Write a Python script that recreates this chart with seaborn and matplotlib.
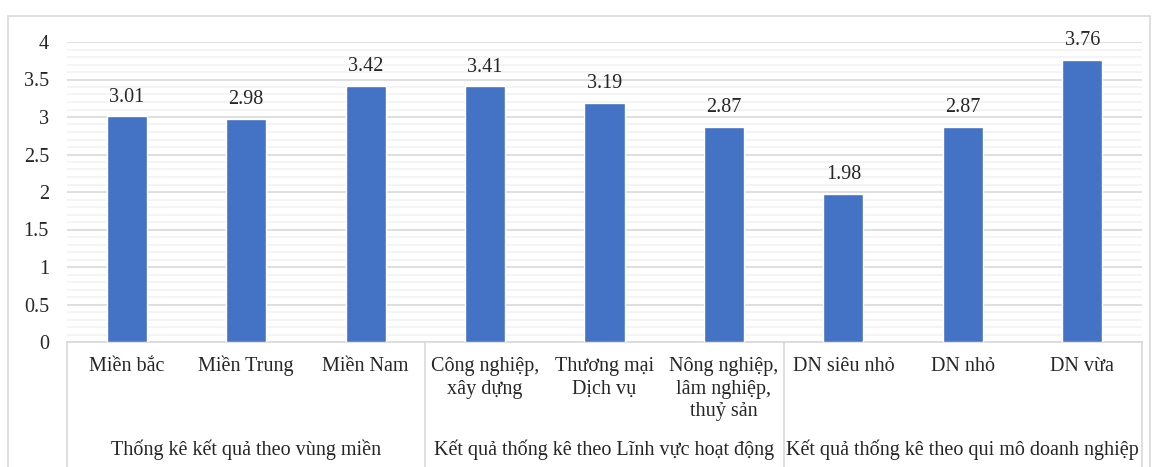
import matplotlib
matplotlib.use("Agg")
import matplotlib.pyplot as plt
import matplotlib.patches as mpatches
import seaborn as sns
import pandas as pd
import numpy as np

categories = ["Miền bắc", "Miền Trung", "Miền Nam",
              "Công nghiệp,\nxây dựng", "Thương mại\nDịch vụ", "Nông nghiệp,\nlâm nghiệp,\nthuỷ sản",
              "DN siêu nhỏ", "DN nhỏ", "DN vừa"]
values = [3.01, 2.98, 3.42, 3.41, 3.19, 2.87, 1.98, 2.87, 3.76]
groups = ["Thống kê kết quả theo vùng miền",
          "Kết quả thống kê theo Lĩnh vực hoạt động",
          "Kết quả thống kê theo qui mô doanh nghiệp"]
group_sizes = [3, 3, 3]
yticks = [0, 0.5, 1, 1.5, 2, 2.5, 3, 3.5, 4]
ytick_labels = ["0", "0.5", "1", "1.5", "2", "2.5", "3", "3.5", "4"]

sns.set_style("white")
plt.rcParams['font.family'] = ['Liberation Serif', 'DejaVu Serif']

W, H = 1155, 467
FS = 14.5
TXT = "#262626"
fig = plt.figure(figsize=(W / 100, H / 100), dpi=100)
ax = fig.add_axes([67 / W, (H - 342) / H, (1142 - 67) / W, 300 / H])

df = pd.DataFrame({"cat": categories, "val": values})
sns.barplot(data=df, x="cat", y="val", color="#4472C4", width=0.335,
            saturation=1, ax=ax, zorder=3)

ax.set_xlim(-0.5, len(categories) - 0.5)
ax.set_ylim(0, 4)
ax.set_yticks(yticks)
ax.set_yticklabels(ytick_labels, fontsize=FS, color=TXT)
ax.set_yticks(np.arange(0, 4.01, 0.1), minor=True)
ax.grid(axis="y", which="major", color="#d9d9d9", lw=1.2, zorder=0)
ax.grid(axis="y", which="minor", color="#f2f2f2", lw=1.2, zorder=0)
ax.set_axisbelow(True)
ax.tick_params(axis="y", which="both", length=0, pad=13)
ax.tick_params(axis="x", length=0)
ax.set_xticks(range(len(categories)))
ax.set_xticklabels([])
ax.set_xlabel("")
ax.set_ylabel("")
for s in ["top", "left", "right"]:
    ax.spines[s].set_visible(False)
ax.spines["bottom"].set_color("#d9d9d9")
ax.spines["bottom"].set_linewidth(1.2)

# category labels, line by line with aligned baselines
xtr = ax.get_xaxis_transform()
for i, c in enumerate(categories):
    for j, line in enumerate(c.split("\n")):
        ax.text(i, -0.097 - j * 0.075, line, transform=xtr, ha="center", va="baseline",
                fontsize=FS, color=TXT)

for i, v in enumerate(values):
    ax.annotate(f"{v:.2f}", (i, v), xytext=(0, 7), textcoords="offset points",
                ha="center", va="bottom", fontsize=FS, color=TXT)

# group labels and separators
start = 0
bounds = [-0.5]
for g, n in zip(groups, group_sizes):
    center = start + (n - 1) / 2
    ax.text(center, -0.36, g, transform=xtr, ha="center", va="center",
            fontsize=FS, color=TXT)
    start += n
    bounds.append(start - 0.5)
for b in bounds:
    ax.plot([b, b], [0, -0.5], transform=xtr, color="#d9d9d9", lw=1.2, clip_on=False)

# chart frame
fig.patches.append(mpatches.Rectangle((8 / W, -0.1), (1150 - 8) / W, (H - 16) / H + 0.1,
                                      transform=fig.transFigure, fill=False,
                                      edgecolor="#d9d9d9", lw=1.2))

fig.savefig("out.png", dpi=100)
